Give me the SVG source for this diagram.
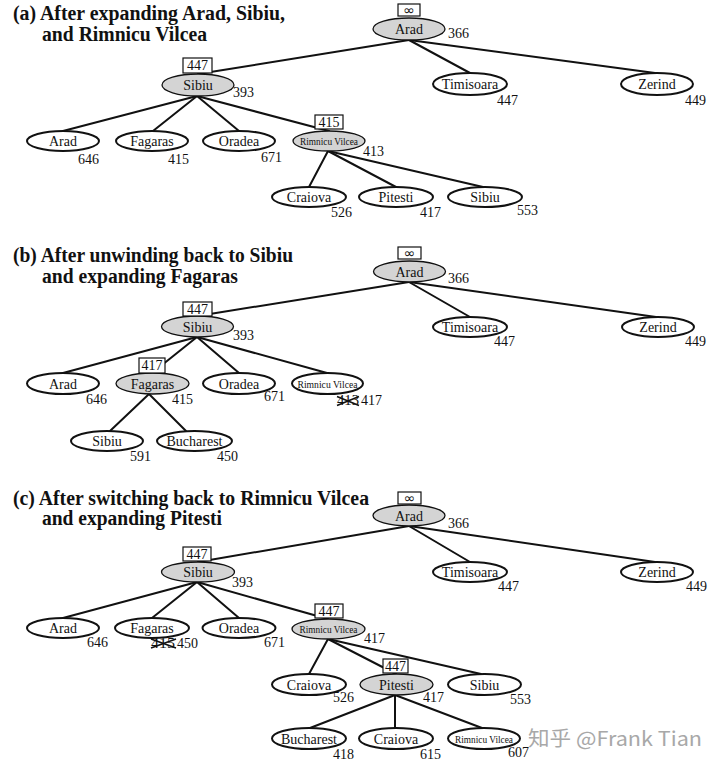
<svg xmlns="http://www.w3.org/2000/svg" width="720" height="767" viewBox="0 0 720 767">
<style>
.bg{fill:#fff}
.n{fill:#fff;stroke:#111;stroke-width:2}
.g{fill:#d4d4d4;stroke:#111;stroke-width:1.3}
.box{fill:#fff;stroke:#111;stroke-width:1.2}
.e line{stroke:#111;stroke-width:2;stroke-linecap:round}
.t{font-family:"Liberation Serif","Times New Roman",serif;font-size:14px;fill:#111;text-anchor:middle}
.v{font-family:"Liberation Serif","Times New Roman",serif;font-size:14px;fill:#111}
.rv{font-family:"Liberation Serif","Times New Roman",serif;font-size:11px;fill:#111;text-anchor:middle}
.inf{font-family:"DejaVu Sans",sans-serif;font-size:14px;fill:#111;text-anchor:middle}
.title{font-family:"Liberation Serif","Times New Roman",serif;font-size:20px;font-weight:bold;fill:#111}
.x{stroke:#111;stroke-width:1.6}
.wm{font-family:"Noto Sans CJK SC","Noto Sans",sans-serif;font-size:20px;fill:#a8a8a8}
</style>
<rect class="bg" x="0" y="0" width="720" height="767"/>

<g id="titles">
<text class="title" x="13" y="20" textLength="272" lengthAdjust="spacingAndGlyphs">(a) After expanding Arad, Sibiu,</text>
<text class="title" x="42" y="41" textLength="165" lengthAdjust="spacingAndGlyphs">and Rimnicu Vilcea</text>
<text class="title" x="13" y="262" textLength="280" lengthAdjust="spacingAndGlyphs">(b) After unwinding back to Sibiu</text>
<text class="title" x="42" y="283" textLength="196" lengthAdjust="spacingAndGlyphs">and expanding Fagaras</text>
<text class="title" x="13" y="505" textLength="356" lengthAdjust="spacingAndGlyphs">(c) After switching back to Rimnicu Vilcea</text>
<text class="title" x="42" y="525" textLength="180" lengthAdjust="spacingAndGlyphs">and expanding Pitesti</text>
</g>

<g id="connectors" class="e">
<!-- (a) -->
<line x1="409" y1="40" x2="198" y2="74"/>
<line x1="409" y1="40" x2="470" y2="73"/>
<line x1="409" y1="40" x2="655" y2="73"/>
<line x1="197" y1="96" x2="63" y2="131"/>
<line x1="197" y1="96" x2="153" y2="131"/>
<line x1="197" y1="96" x2="239" y2="131"/>
<line x1="197" y1="96" x2="329" y2="131"/>
<line x1="328" y1="151" x2="309" y2="187"/>
<line x1="328" y1="151" x2="396" y2="187"/>
<line x1="328" y1="151" x2="483" y2="187"/>
<!-- (b) -->
<line x1="409" y1="282" x2="197.5" y2="316"/>
<line x1="409" y1="282" x2="470" y2="317"/>
<line x1="409" y1="282" x2="656" y2="317"/>
<line x1="197" y1="337" x2="63" y2="373"/>
<line x1="197" y1="337" x2="152" y2="373"/>
<line x1="197" y1="337" x2="239" y2="373"/>
<line x1="197" y1="337" x2="327" y2="373"/>
<line x1="149" y1="394" x2="110" y2="431"/>
<line x1="149" y1="394" x2="186" y2="431"/>
<!-- (c) -->
<line x1="409" y1="526" x2="198" y2="562"/>
<line x1="409" y1="526" x2="470" y2="562"/>
<line x1="409" y1="526" x2="655" y2="562"/>
<line x1="197" y1="582" x2="63" y2="618"/>
<line x1="197" y1="582" x2="152" y2="618"/>
<line x1="197" y1="582" x2="239" y2="618"/>
<line x1="197" y1="582" x2="328" y2="619"/>
<line x1="328" y1="639" x2="309" y2="674"/>
<line x1="328" y1="639" x2="396" y2="674"/>
<line x1="328" y1="639" x2="481" y2="674"/>
<line x1="395" y1="695" x2="310" y2="728"/>
<line x1="395" y1="695" x2="395" y2="728"/>
<line x1="395" y1="695" x2="482" y2="728"/>
</g>

<!-- Section (a) -->
<g id="a-arad"><ellipse class="g" cx="409" cy="29" rx="36" ry="11"/><text class="t" x="409" y="34">Arad</text><rect class="box" x="398" y="4" width="22" height="12"/><text class="inf" x="409" y="14.5">∞</text><text class="v" x="448" y="38">366</text></g>
<g id="a-sibiu"><ellipse class="g" cx="198" cy="85" rx="36" ry="11"/><text class="t" x="198" y="90">Sibiu</text><rect class="box" x="183" y="58" width="29" height="15"/><text class="t" x="197.5" y="70">447</text><text class="v" x="233" y="97">393</text></g>
<g id="a-timisoara"><ellipse class="n" cx="470" cy="84" rx="37" ry="11"/><text class="t" x="470" y="89">Timisoara</text><text class="v" x="497" y="105">447</text></g>
<g id="a-zerind"><ellipse class="n" cx="657" cy="84" rx="36" ry="11"/><text class="t" x="657" y="89">Zerind</text><text class="v" x="685" y="105">449</text></g>
<g id="a-arad-2"><ellipse class="n" cx="63" cy="141" rx="36" ry="10"/><text class="t" x="63" y="146">Arad</text><text class="v" x="78" y="164">646</text></g>
<g id="a-fagaras"><ellipse class="n" cx="152" cy="141" rx="36" ry="10"/><text class="t" x="152" y="146">Fagaras</text><text class="v" x="168" y="164">415</text></g>
<g id="a-oradea"><ellipse class="n" cx="239" cy="141" rx="36" ry="10"/><text class="t" x="239" y="146">Oradea</text><text class="v" x="261" y="162">671</text></g>
<g id="a-rimnicu"><ellipse class="g" cx="329" cy="141" rx="36" ry="10"/><text class="rv" x="329" y="145" textLength="58" lengthAdjust="spacingAndGlyphs">Rimnicu Vilcea</text><rect class="box" x="315" y="115" width="28" height="14"/><text class="t" x="329" y="127">415</text><text class="v" x="363" y="156">413</text></g>
<g id="a-craiova"><ellipse class="n" cx="309" cy="197" rx="37" ry="10"/><text class="t" x="309" y="202">Craiova</text><text class="v" x="331" y="217">526</text></g>
<g id="a-pitesti"><ellipse class="n" cx="396" cy="197" rx="37" ry="10"/><text class="t" x="396" y="202">Pitesti</text><text class="v" x="420" y="217">417</text></g>
<g id="a-sibiu-2"><ellipse class="n" cx="485" cy="197" rx="37" ry="10"/><text class="t" x="485" y="202">Sibiu</text><text class="v" x="517" y="215">553</text></g>

<!-- Section (b) -->
<g id="b-arad"><ellipse class="g" cx="409.5" cy="271.5" rx="36" ry="10.5"/><text class="t" x="409.5" y="276.5">Arad</text><rect class="box" x="398" y="247" width="23" height="12"/><text class="inf" x="409.5" y="257.5">∞</text><text class="v" x="448" y="283">366</text></g>
<g id="b-sibiu"><ellipse class="g" cx="197.5" cy="326.5" rx="36" ry="10.5"/><text class="t" x="197.5" y="331.5">Sibiu</text><rect class="box" x="183" y="302" width="29" height="14"/><text class="t" x="197.5" y="313.5">447</text><text class="v" x="233" y="340">393</text></g>
<g id="b-timisoara"><ellipse class="n" cx="470" cy="327" rx="37" ry="10"/><text class="t" x="470" y="332">Timisoara</text><text class="v" x="494" y="346">447</text></g>
<g id="b-zerind"><ellipse class="n" cx="658" cy="327" rx="36" ry="10"/><text class="t" x="658" y="332">Zerind</text><text class="v" x="685" y="346">449</text></g>
<g id="b-arad-2"><ellipse class="n" cx="63" cy="383.5" rx="36" ry="10.5"/><text class="t" x="63" y="388.5">Arad</text><text class="v" x="86" y="404">646</text></g>
<g id="b-fagaras"><ellipse class="g" cx="152.5" cy="383.5" rx="36.5" ry="10.5"/><text class="t" x="152.5" y="388.5">Fagaras</text><rect class="box" x="139" y="358" width="26" height="15"/><text class="t" x="152" y="370">417</text><text class="v" x="172" y="404">415</text></g>
<g id="b-oradea"><ellipse class="n" cx="239" cy="383.5" rx="36" ry="10.5"/><text class="t" x="239" y="388.5">Oradea</text><text class="v" x="264" y="401">671</text></g>
<g id="b-rimnicu"><ellipse class="n" cx="327.5" cy="383.5" rx="35.5" ry="10.5"/><text class="rv" x="327.5" y="387.5" textLength="60" lengthAdjust="spacingAndGlyphs">Rimnicu Vilcea</text><text class="v" x="337" y="405" textLength="22" lengthAdjust="spacingAndGlyphs">413</text><line class="x" x1="337" y1="396.5" x2="359" y2="405.5"/><line class="x" x1="337" y1="405.5" x2="359" y2="396.5"/><text class="v" x="361" y="405">417</text></g>
<g id="b-sibiu-2"><ellipse class="n" cx="107" cy="441" rx="36" ry="10"/><text class="t" x="107" y="446">Sibiu</text><text class="v" x="130" y="461">591</text></g>
<g id="b-bucharest"><ellipse class="n" cx="194.5" cy="441" rx="37.5" ry="10"/><text class="t" x="194.5" y="446">Bucharest</text><text class="v" x="217" y="461">450</text></g>

<!-- Section (c) -->
<g id="c-arad"><ellipse class="g" cx="409" cy="515.5" rx="36" ry="10.5"/><text class="t" x="409" y="520.5">Arad</text><rect class="box" x="398" y="492" width="23" height="12"/><text class="inf" x="409.5" y="502.5">∞</text><text class="v" x="448" y="528">366</text></g>
<g id="c-sibiu"><ellipse class="g" cx="198" cy="572" rx="36.5" ry="10"/><text class="t" x="198" y="577">Sibiu</text><rect class="box" x="183" y="547" width="28" height="14"/><text class="t" x="197" y="558.5">447</text><text class="v" x="232" y="587">393</text></g>
<g id="c-timisoara"><ellipse class="n" cx="470" cy="572" rx="37" ry="10"/><text class="t" x="470" y="577">Timisoara</text><text class="v" x="498" y="591">447</text></g>
<g id="c-zerind"><ellipse class="n" cx="657" cy="572" rx="36" ry="10"/><text class="t" x="657" y="577">Zerind</text><text class="v" x="686" y="591">449</text></g>
<g id="c-arad-2"><ellipse class="n" cx="63" cy="628" rx="36" ry="10"/><text class="t" x="63" y="633">Arad</text><text class="v" x="87" y="647">646</text></g>
<g id="c-fagaras"><ellipse class="n" cx="152" cy="628" rx="37" ry="10"/><text class="t" x="152" y="633">Fagaras</text><text class="v" x="151" y="648" textLength="24" lengthAdjust="spacingAndGlyphs">415</text><line class="x" x1="151" y1="639" x2="176" y2="648"/><line class="x" x1="151" y1="648" x2="176" y2="639"/><text class="v" x="177" y="648">450</text></g>
<g id="c-oradea"><ellipse class="n" cx="239" cy="628" rx="36.5" ry="10"/><text class="t" x="239" y="633">Oradea</text><text class="v" x="264" y="647">671</text></g>
<g id="c-rimnicu"><ellipse class="g" cx="328.5" cy="629" rx="36.5" ry="10"/><text class="rv" x="328.5" y="633" textLength="58" lengthAdjust="spacingAndGlyphs">Rimnicu Vilcea</text><rect class="box" x="315" y="604" width="28" height="14"/><text class="t" x="329" y="615.5">447</text><text class="v" x="364" y="643">417</text></g>
<g id="c-craiova"><ellipse class="n" cx="309" cy="684.5" rx="37" ry="10.5"/><text class="t" x="309" y="689.5">Craiova</text><text class="v" x="333" y="702">526</text></g>
<g id="c-pitesti"><ellipse class="g" cx="396.5" cy="684.5" rx="36.5" ry="10.5"/><text class="t" x="396.5" y="689.5">Pitesti</text><rect class="box" x="383" y="659" width="25" height="14"/><text class="t" x="395.5" y="670.5">447</text><text class="v" x="423" y="702">417</text></g>
<g id="c-sibiu-2"><ellipse class="n" cx="484.5" cy="684.5" rx="36.5" ry="10.5"/><text class="t" x="484.5" y="689.5">Sibiu</text><text class="v" x="510" y="704">553</text></g>
<g id="c-bucharest"><ellipse class="n" cx="309" cy="738.5" rx="37" ry="10.5"/><text class="t" x="309" y="743.5">Bucharest</text><text class="v" x="333" y="759">418</text></g>
<g id="c-craiova-2"><ellipse class="n" cx="396" cy="738.5" rx="37" ry="10.5"/><text class="t" x="396" y="743.5">Craiova</text><text class="v" x="420" y="759">615</text></g>
<g id="c-rimnicu-2"><ellipse class="n" cx="484" cy="738.5" rx="36" ry="10.5"/><text class="rv" x="484" y="742.5" textLength="58" lengthAdjust="spacingAndGlyphs">Rimnicu Vilcea</text><text class="v" x="508" y="757">607</text></g>

<text class="wm" x="528" y="746" textLength="174" lengthAdjust="spacingAndGlyphs">知乎 @Frank Tian</text>
</svg>
